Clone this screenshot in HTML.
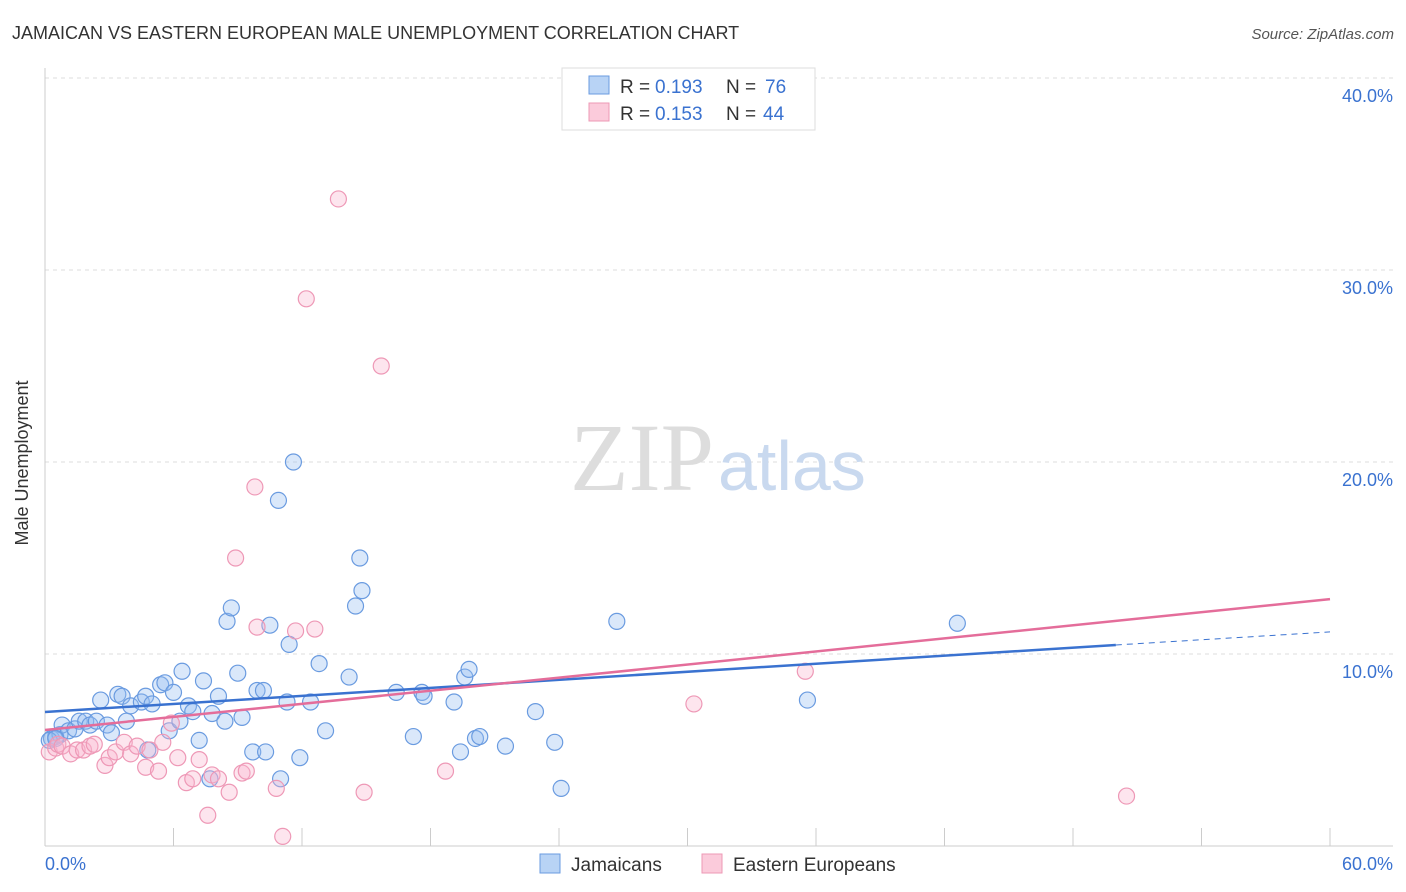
<!DOCTYPE html>
<html><head><meta charset="utf-8"><style>
body{margin:0;background:#fff;font-family:"Liberation Sans",sans-serif;}
svg{display:block}
</style></head><body>
<svg width="1406" height="892" xmlns="http://www.w3.org/2000/svg">
<text x="12" y="39" font-size="18" fill="#333">JAMAICAN VS EASTERN EUROPEAN MALE UNEMPLOYMENT CORRELATION CHART</text>
<text x="1394" y="39" font-size="15" fill="#555" font-style="italic" text-anchor="end">Source: ZipAtlas.com</text>
<g id="grid"></g>
<text x="714" y="490" font-size="96" font-family="Liberation Serif" fill="#ddd" text-anchor="end">ZIP</text>
<text x="718" y="490" font-size="70" fill="#c9d9ef">atlas</text>
<line x1="45" y1="68" x2="45" y2="846" stroke="#ccc"/>
<line x1="45" y1="846" x2="1393" y2="846" stroke="#ccc"/>
<g id="ticks"></g>
<g id="pts"></g>
<g id="lines"></g>
<text x="20" y="455" font-size="18" fill="#333" transform="rotate(-90 28 455)" text-anchor="middle">Male Unemployment</text>
<text x="45" y="870" font-size="18" fill="#3a72d0">0.0%</text>
<text x="1393" y="870" font-size="18" fill="#3a72d0" text-anchor="end">60.0%</text>
<g>
<rect x="562" y="68" width="253" height="62" fill="#fff" stroke="#ddd"/>
<rect x="589" y="76" width="20" height="18" fill="#b8d3f5" stroke="#6a9be0"/>
<rect x="589" y="103" width="20" height="18" fill="#fbcbdb" stroke="#ee98b6"/>
<text x="620" y="93" font-size="19" fill="#333">R =</text>
<text x="655" y="93" font-size="19" fill="#3a72d0">0.193</text>
<text x="726" y="93" font-size="19" fill="#333">N =</text>
<text x="765" y="93" font-size="19" fill="#3a72d0">76</text>
<text x="620" y="120" font-size="19" fill="#333">R =</text>
<text x="655" y="120" font-size="19" fill="#3a72d0">0.153</text>
<text x="726" y="120" font-size="19" fill="#333">N =</text>
<text x="763" y="120" font-size="19" fill="#3a72d0">44</text>
</g>
<g>
<rect x="540" y="854" width="20" height="19" fill="#b8d3f5" stroke="#6a9be0"/>
<text x="571" y="871" font-size="19" fill="#333">Jamaicans</text>
<rect x="702" y="854" width="20" height="19" fill="#fbcbdb" stroke="#ee98b6"/>
<text x="733" y="871" font-size="19" fill="#333">Eastern Europeans</text>
</g>
</svg>
<script>
const yTicks=[10,20,30,40];
const yTickLabels=["10.0%","20.0%","30.0%","40.0%"];
const jamX=[0.3,0.5,0.7,0.8,1.1,1.4,1.6,1.9,2.1,2.4,2.6,2.9,3.1,3.4,3.6,3.8,4.0,4.5,4.7,5.0,5.4,5.6,5.8,6.0,6.3,6.4,6.7,6.9,7.2,7.4,7.7,7.8,8.1,8.4,8.5,8.7,9.0,9.2,9.7,9.9,10.2,10.3,10.5,10.9,11.0,11.3,11.4,11.6,11.9,12.4,12.8,13.1,14.2,14.5,14.7,14.8,16.4,17.2,17.6,17.7,19.1,19.4,19.6,19.8,20.1,20.3,21.5,22.9,23.8,24.1,26.7,35.6,42.6,0.2,0.5,4.8];
const jamY=[5.6,5.7,5.8,6.3,6.0,6.1,6.5,6.5,6.3,6.5,7.6,6.3,5.9,7.9,7.8,6.5,7.3,7.5,7.8,7.4,8.4,8.5,6.0,8.0,6.5,9.1,7.3,7.0,5.5,8.6,3.5,6.9,7.8,6.5,11.7,12.4,9.0,6.7,4.9,8.1,8.1,4.9,11.5,18.0,3.5,7.5,10.5,20.0,4.6,7.5,9.5,6.0,8.8,12.5,15.0,13.3,8.0,5.7,8.0,7.8,7.5,4.9,8.8,9.2,5.6,5.7,5.2,7.0,5.4,3.0,11.7,7.6,11.6,5.5,5.6,5.0];
const eeX=[0.2,0.5,0.6,0.8,1.2,1.5,1.8,2.1,2.3,2.8,3.0,3.3,3.7,4.0,4.3,4.7,4.9,5.3,5.5,5.9,6.2,6.6,6.9,7.2,7.6,7.8,8.1,8.6,8.9,9.2,9.4,9.8,9.9,10.8,11.1,11.7,12.2,12.6,13.7,14.9,15.7,18.7,30.3,35.5,50.5];
const eeY=[4.9,5.1,5.3,5.2,4.8,5.0,5.0,5.2,5.3,4.2,4.6,4.9,5.4,4.8,5.2,4.1,5.0,3.9,5.4,6.4,4.6,3.3,3.5,4.5,1.6,3.7,3.5,2.8,15.0,3.8,3.9,18.7,11.4,3.0,0.5,11.2,28.5,11.3,33.7,2.8,25.0,3.9,7.4,9.1,2.6];
const X=v=>45+v/60*1285, Y=v=>846-v/10*192;
const ns="http://www.w3.org/2000/svg";
function mk(t,a,p){const e=document.createElementNS(ns,t);for(const k in a)e.setAttribute(k,a[k]);p.appendChild(e);return e;}
const grid=document.getElementById('grid');
yTicks.forEach((t,i)=>{
 const l=mk('line',{x1:45,x2:1393,y1:Y(t),y2:Y(t),stroke:'#ddd','stroke-dasharray':'4,4'},grid);
 
 
 const tx=mk('text',{x:1393,y:Y(t)+24,'font-size':18,fill:'#3a72d0','text-anchor':'end'},grid);
 tx.textContent=yTickLabels[i];
 
 
});
const ticks=document.getElementById('ticks');
for(let i=0;i<=10;i++){
 const l=mk('line',{x1:X(i*6),x2:X(i*6),y1:828,y2:846,stroke:'#ccc'},ticks);
 
 
}
const pts=document.getElementById('pts');
jamX.forEach((x,i)=>{
 const c=mk('circle',{cx:X(x),cy:Y(jamY[i]),r:8,fill:'rgba(150,190,240,0.35)',stroke:'#6a9be0','stroke-width':1.2},pts);
 
 
});
eeX.forEach((x,i)=>{
 const c=mk('circle',{cx:X(x),cy:Y(eeY[i]),r:8,fill:'rgba(248,180,205,0.35)',stroke:'#ee98b6','stroke-width':1.2},pts);
 
 
});
const lines=document.getElementById('lines');
let a=mk('line',{x1:X(0),y1:Y(6.98),x2:X(50),y2:Y(10.47),stroke:'#3a72d0','stroke-width':2.5},lines);


a=mk('line',{x1:X(50),y1:Y(10.47),x2:X(60),y2:Y(11.15),stroke:'#3a72d0','stroke-width':1,'stroke-dasharray':'6,5'},lines);


a=mk('line',{x1:X(0),y1:Y(6.04),x2:X(60),y2:Y(12.86),stroke:'#e46d9a','stroke-width':2.5},lines);


</script>
</body></html>
